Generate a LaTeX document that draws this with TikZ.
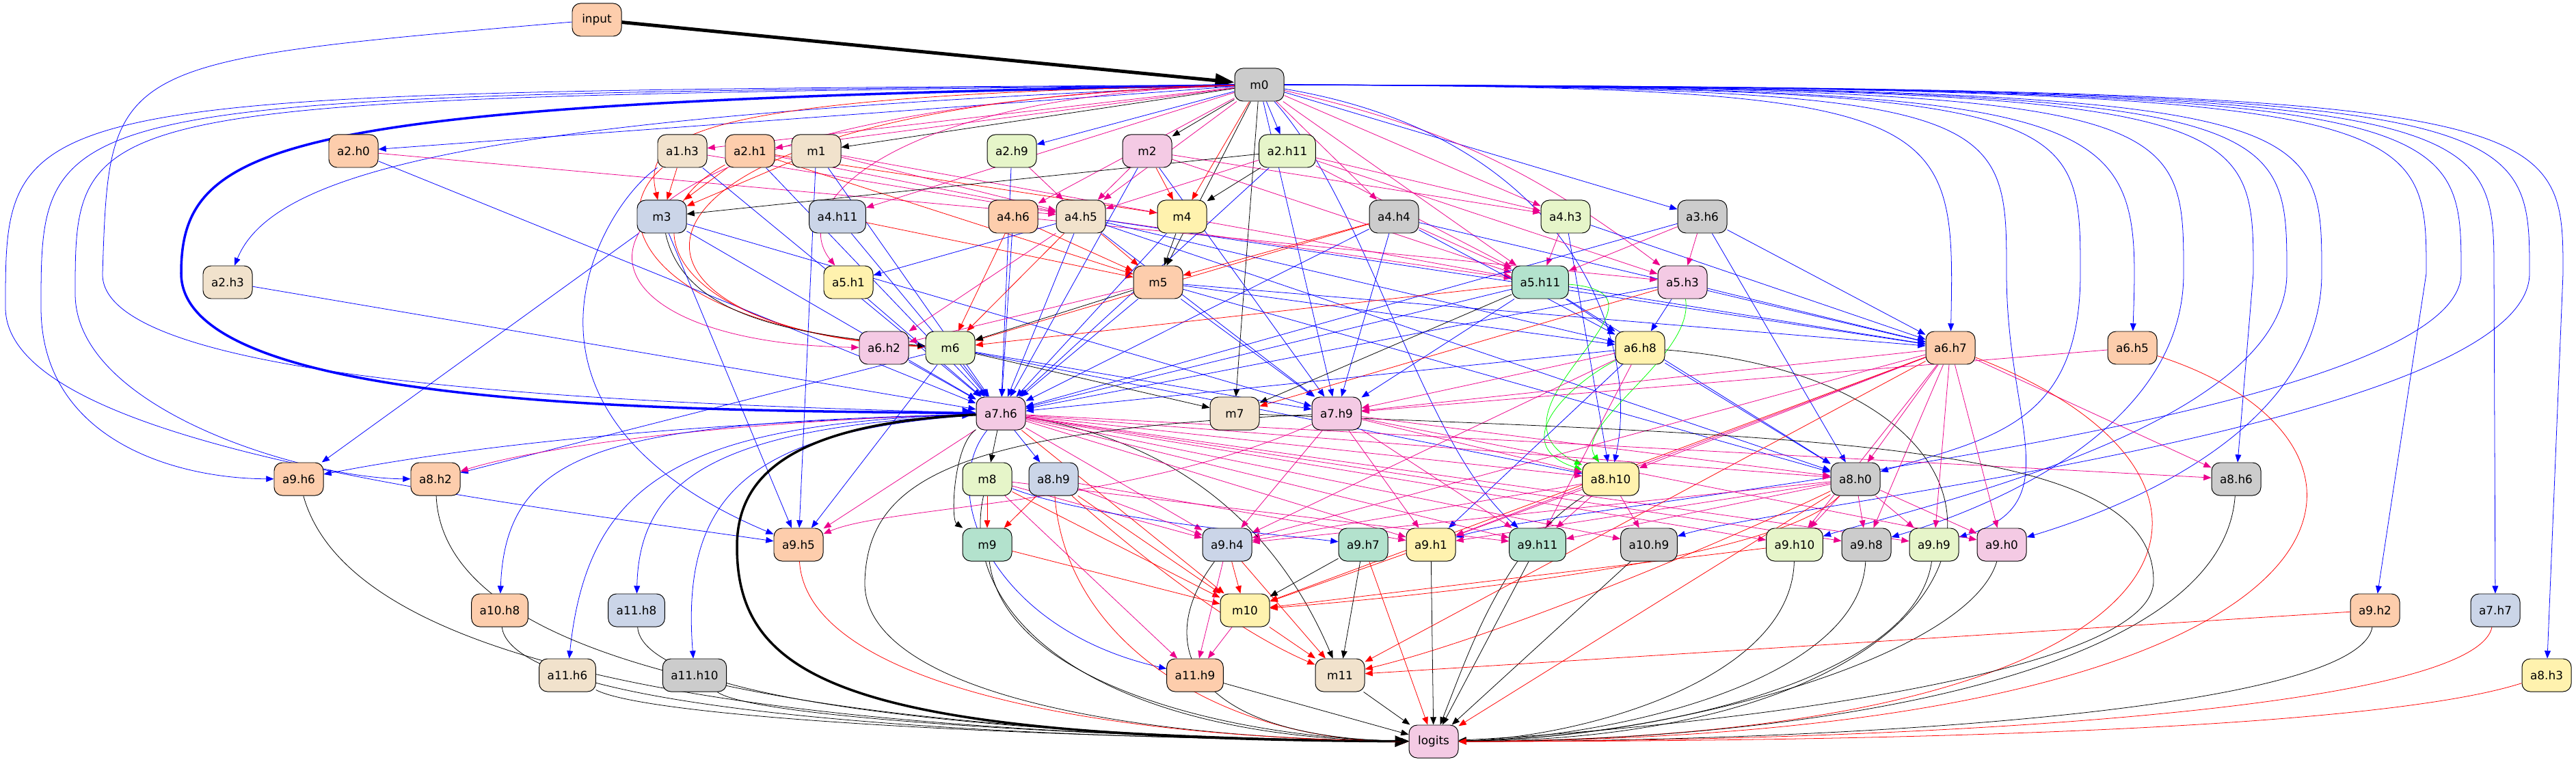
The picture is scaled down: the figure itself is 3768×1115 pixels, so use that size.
\documentclass[tikz,border=0pt]{standalone}
\usepackage{fontspec}
\setmainfont{DejaVu Sans}
\usepackage{tikz}
\usetikzlibrary{arrows.meta,backgrounds}

\definecolor{cteal}{HTML}{B3E2CD}
\definecolor{cpeach}{HTML}{FDCDAC}
\definecolor{cblue}{HTML}{CBD5E8}
\definecolor{cpink}{HTML}{F4CAE4}
\definecolor{cgreen}{HTML}{E6F5C9}
\definecolor{cyell}{HTML}{FFF2AE}
\definecolor{cbeige}{HTML}{F1E2CC}
\definecolor{cgrey}{HTML}{CCCCCC}

\tikzset{
	box/.style={draw,line width=0.7pt,rounded corners=0.3cm,minimum width=1.8cm,minimum height=1.2cm,inner xsep=0.3cm,font=\fontsize{12}{14}\selectfont},
	tl/.style={box,fill=cteal},
	pc/.style={box,fill=cpeach},
	bg/.style={box,fill=cblue},
	pk/.style={box,fill=cpink},
	gn/.style={box,fill=cgreen},
	yl/.style={box,fill=cyell},
	bz/.style={box,fill=cbeige},
	gy/.style={box,fill=cgrey},
	e/.style={->,line width=0.55pt},
	eb/.style={e,blue},
	em/.style={e,magenta},
	er/.style={e,red},
	ek/.style={e,black},
	eg/.style={e,green},
	thick edge/.style={line width=2.5pt,>={Triangle[length=5mm,width=4mm]}}
}

\begin{document}
\begin{tikzpicture}[x=0.025cm,y=-0.025cm,>={Triangle[length=2.8mm,width=2.2mm]}]
	\useasboundingbox (0,0) rectangle (3768,1115);

%nodes, rank by rank
	\node[pc] (input) at (873,29) {input};
	\node[gy] (m0) at (1842,124) {m0};
	%rank 1
	\node[pc] (a2h0) at (517,221) {a2.h0};
	\node[bz] (a1h3) at (998,221) {a1.h3};
	\node[pc] (a2h1) at (1097,221) {a2.h1};
	\node[bz] (m1) at (1194,221) {m1};
	\node[gn] (a2h9) at (1480,221) {a2.h9};
	\node[pk] (m2) at (1678,221) {m2};
	\node[gn] (a2h11) at (1883,221) {a2.h11};
	%rank 2
	\node[bg] (m3) at (968,317) {m3};
	\node[bg] (a4h11) at (1225,317) {a4.h11};
	\node[pc] (a4h6) at (1482,317) {a4.h6};
	\node[bz] (a4h5) at (1581,317) {a4.h5};
	\node[yl] (m4) at (1729,317) {m4};
	\node[gy] (a4h4) at (2039,317) {a4.h4};
	\node[gn] (a4h3) at (2290,317) {a4.h3};
	\node[gy] (a3h6) at (2490,317) {a3.h6};
	%rank 3
	\node[bz] (a2h3) at (333,413) {a2.h3};
	\node[yl] (a5h1) at (1241,413) {a5.h1};
	\node[pc] (m5) at (1694,413) {m5};
	\node[tl] (a5h11) at (2253,413) {a5.h11};
	\node[pk] (a5h3) at (2461,413) {a5.h3};
	%rank 4
	\node[pk] (a6h2) at (1293,509) {a6.h2};
	\node[gn] (m6) at (1390,509) {m6};
	\node[yl] (a6h8) at (2399,509) {a6.h8};
	\node[pc] (a6h7) at (2853,509) {a6.h7};
	\node[pc] (a6h5) at (3119,509) {a6.h5};
	%rank 5
	\node[pk] (a7h6) at (1464,605) {a7.h6};
	\node[bz] (m7) at (1806,605) {m7};
	\node[pk] (a7h9) at (1955,605) {a7.h9};
	%rank 6
	\node[pc] (a9h6) at (437,701) {a9.h6};
	\node[pc] (a8h2) at (637,701) {a8.h2};
	\node[gn] (m8) at (1444,701) {m8};
	\node[bg] (a8h9) at (1541,701) {a8.h9};
	\node[yl] (a8h10) at (2356,701) {a8.h10};
	\node[gy] (a8h0) at (2714,701) {a8.h0};
	\node[gy] (a8h6) at (3271,701) {a8.h6};
	%rank 7
	\node[pc] (a9h5) at (1168,797) {a9.h5};
	\node[tl] (m9) at (1444,797) {m9};
	\node[bg] (a9h4) at (1795,797) {a9.h4};
	\node[tl] (a9h7) at (1994,797) {a9.h7};
	\node[yl] (a9h1) at (2093,797) {a9.h1};
	\node[tl] (a9h11) at (2249,797) {a9.h11};
	\node[gy] (a10h9) at (2412,797) {a10.h9};
	\node[gn] (a9h10) at (2625,797) {a9.h10};
	\node[gy] (a9h8) at (2730,797) {a9.h8};
	\node[gn] (a9h9) at (2829,797) {a9.h9};
	\node[pk] (a9h0) at (2928,797) {a9.h0};
	%rank 8
	\node[pc] (a10h8) at (731,893) {a10.h8};
	\node[bg] (a11h8) at (931,893) {a11.h8};
	\node[yl] (m10) at (1821,893) {m10};
	\node[pc] (a9h2) at (3474,893) {a9.h2};
	\node[bg] (a7h7) at (3650,893) {a7.h7};
	%rank 9
	\node[bz] (a11h6) at (830,988) {a11.h6};
	\node[gy] (a11h10) at (1016,988) {a11.h10};
	\node[pc] (a11h9) at (1748,988) {a11.h9};
	\node[bz] (m11) at (1960,988) {m11};
	\node[yl] (a8h3) at (3725,988) {a8.h3};
	\node[pk] (logits) at (2097,1085) {logits};

\begin{scope}[on background layer]
	\fill[white] (0,0) rectangle (3768,1115);

%input and m0
	\draw[ek,line width=3.5pt,>={Triangle[length=7mm,width=5mm]}] (input) -- (m0);
	\draw[eb] (input) .. controls (160,90) .. (150,400) .. controls (145,560) and (900,590) .. (a7h6);
	\draw[eb,thick edge] (m0) .. controls (420,150) and (265,200) .. (265,400) .. controls (265,600) and (1000,600) .. (a7h6);
	\draw[eb] (m0) .. controls (8,135) .. (8,450) .. controls (8,650) and (700,730) .. (a9h5);
	\draw[eb] (m0) .. controls (60,140) .. (60,450) .. controls (60,640) and (250,700) .. (a9h6);
	\draw[eb] (m0) .. controls (110,145) .. (110,430) .. controls (110,600) and (450,700) .. (a8h2);
	\draw[eb] (m0) -- (a2h0);
	\draw[eb] (m0) .. controls (700,170) and (400,250) .. (a2h3);
	\foreach \t in {a1h3,a2h1} \draw[em] (m0) -- (\t);
	\foreach \t in {m1,m2,m5,m7} \draw[ek] (m0) -- (\t);
	\foreach \t in {a2h9,a2h11,a3h6,a7h9} \draw[eb] (m0) -- (\t);
	\foreach \t in {a4h11,a4h6,a4h5,a4h4,a4h3,a5h11} \draw[em] (m0) -- (\t);
	\draw[em] (m0) to[bend left=12] (a5h3);
	\draw[em] (m0) .. controls (1300,140) and (1150,300) .. (a5h1);
	\draw[em] (m0) .. controls (750,160) and (750,500) .. (a6h2);
	\draw[er] (m0) .. controls (1000,140) and (940,200) .. (m3);
	\draw[er] (m0) .. controls (850,150) and (830,480) .. (m6);
	\draw[er] (m0) -- (m4);
	\draw[eb] (m0) .. controls (2000,300) and (2080,650) .. (a9h11);
	\draw[eb] (m0) .. controls (2300,200) and (2400,500) .. (a8h10);
	%right side
	\foreach \t/\x in {a6h7/2860,a6h5/3131}
	{\draw[eb] (m0) .. controls (\x,128) and (\x,160) .. (\t);}
	\foreach \t/\x in {a8h6/3296,a9h2/3549,a7h7/3648,a8h3/3749}
	{\draw[eb] (m0) .. controls (\x,128) and (\x,160) .. (\x,400) -- (\t);}
	\foreach \t/\x in {a9h9/2935,a8h0/3043,a9h8/3194,a9h10/3345,a9h0/3396,a9h1/3600,a10h9/3700}
	{\draw[eb] (m0) .. controls (\x,128) and (\x,160) .. (\x,400) .. controls (\x,620) and +(200,-60) .. (\t);}

%rank 1
	\draw[em] (a2h0) -- (a4h5);
	\draw[eb] (a2h0) -- (a7h6);
	\draw[er] (a1h3) -- (m3);
	\draw[em] (a1h3) -- (a4h5);
	\draw[er] (a1h3) .. controls (880,320) and (950,480) .. (m6);
	\draw[eb] (a1h3) .. controls (880,300) and (700,600) .. (a9h5);
	\draw[eb] (a1h3) -- (a7h6);
	\foreach \t in {m3,m4,m5} \draw[er] (a2h1) -- (\t);
	\draw[em] (a2h1) -- (a4h5);
	\draw[er] (a2h1) .. controls (900,330) and (1000,490) .. (m6);
	\draw[eb] (a2h1) -- (a7h6);
	\draw[er] (m1) -- (m3);
	\foreach \t in {a4h5,a5h11} \draw[em] (m1) -- (\t);
	\foreach \t in {a7h6,a9h5} \draw[eb] (m1) -- (\t);
	\draw[em] (a2h9) -- (a4h5);
	\draw[eb] (a2h9) -- (a7h6);
	\draw[er] (m2) -- (m4);
	\foreach \t in {a4h5,a4h3,a5h11} \draw[em] (m2) -- (\t);
	\foreach \t in {a7h6,a7h9} \draw[eb] (m2) -- (\t);
	\foreach \t in {m4,m3} \draw[ek] (a2h11) -- (\t);
	\foreach \t in {a4h5,a4h3,a5h11,a5h3} \draw[em] (a2h11) -- (\t);
	\draw[eb] (a2h11) -- (a7h6);

%rank 2
	\draw[ek] (m3) .. controls (1000,460) and (1150,490) .. (m6);
	\foreach \t in {a7h6,a9h6,a9h5,a7h9} \draw[eb] (m3) -- (\t);
	\draw[er] (a4h11) -- (m5);
	\draw[eb] (a4h11) -- (a7h6);
	\foreach \t in {m5,m6} \draw[er] (a4h6) -- (\t);
	\draw[em] (a4h6) -- (a5h3);
	\draw[eb] (a4h6) -- (a7h6);
	\foreach \t in {m5,m6} \draw[er] (a4h5) -- (\t);
	\foreach \t in {a6h2,a5h11} \draw[em] (a4h5) -- (\t);
	\foreach \t in {a5h1,a7h6,a7h9,a6h8,a6h7,a8h0} \draw[eb] (a4h5) -- (\t);
	\draw[ek] (m4) -- (m5);
	\draw[eb] (m4) -- (a7h6);
	\foreach \t in {m5,m6} \draw[er] (a4h4) -- (\t);
	\draw[em] (a4h4) -- (a5h11);
	\foreach \t in {a6h8,a6h7,a7h6,a7h9} \draw[eb] (a4h4) -- (\t);
	\draw[em] (a4h3) -- (a5h11);
	\foreach \t in {a6h7,a8h10} \draw[eb] (a4h3) -- (\t);
	\foreach \t in {a5h3,a5h11} \draw[em] (a3h6) -- (\t);
	\foreach \t in {a6h7,a7h6,a8h0} \draw[eb] (a3h6) -- (\t);

%rank 3
	\draw[eb] (a2h3) -- (a7h6);
	\draw[eb] (a5h1) -- (a7h6);
	\draw[ek] (m5) -- (m6);
	\draw[em] (m5) -- (a6h2);
	\foreach \t in {a7h6,a7h9,a6h7,a6h8,a8h0} \draw[eb] (m5) -- (\t);
	\draw[er] (a5h11) -- (m6);
	\draw[ek] (a5h11) -- (m7);
	\foreach \t in {a6h7,a6h8,a7h6,a7h9,a8h0} \draw[eb] (a5h11) -- (\t);
	\draw[eg] (a5h11) .. controls (2480,430) and (2150,600) .. (a8h10);
	\draw[er] (a5h3) -- (m7);
	\draw[eg] (a5h3) .. controls (2480,520) and (2300,620) .. (a8h10);
	\foreach \t in {a6h8,a6h7,a7h6} \draw[eb] (a5h3) -- (\t);

%rank 4
	\draw[eb] (a6h2) -- (a7h6);
	\draw[ek] (m6) -- (m7);
	\foreach \t in {a7h6,a7h9,a8h2,a9h5,a8h10} \draw[eb] (m6) -- (\t);
	\foreach \t in {a7h6,a8h0,a9h1} \draw[eb] (a6h8) -- (\t);
	\foreach \t in {a7h9,a9h4,a9h11} \draw[em] (a6h8) -- (\t);
	\draw[eg] (a6h8) .. controls (2300,560) and (2200,650) .. (a8h10);
	\draw[ek] (a6h8) .. controls (3050,560) and (3000,1080) .. (logits);
	\foreach \t in {a7h9,a8h10,a8h0,a8h6,a9h0,a9h9,a9h8,a9h1,a9h4,a9h10} \draw[em] (a6h7) -- (\t);
	\foreach \t in {m10,m11} \draw[er] (a6h7) -- (\t);
	\draw[er] (a6h7) .. controls (3350,700) and (3250,1080) .. (logits);
	\draw[em] (a6h5) -- (a7h9);
	\draw[er] (a6h5) .. controls (3560,650) and (3500,1080) .. (logits);

%rank 5
	\draw[eb] (a7h6) .. controls (1000,620) and (700,650) .. (a9h6);
	\draw[em] (a7h6) .. controls (1100,615) and (800,650) .. (a8h2);
	\draw[eb] (a7h6) .. controls (900,620) and (740,650) .. (a10h8);
	\draw[eb] (a7h6) .. controls (1000,620) and (860,700) .. (a11h6);
	\draw[eb] (a7h6) .. controls (1050,625) and (935,700) .. (a11h8);
	\draw[eb] (a7h6) .. controls (1100,630) and (995,720) .. (a11h10);
	\draw[eb] (a7h6) .. controls (1370,720) and (1450,920) .. (a11h9);
	\draw[eb] (a7h6) -- (a8h9);
	\draw[em] (a7h6) -- (a9h5);
	\draw[ek] (a7h6) -- (m8);
	\draw[ek] (a7h6) .. controls (1395,650) and (1390,760) .. (m9);
	\draw[ek] (a7h6) .. controls (1750,650) and (1880,800) .. (m11);
	\draw[er] (a7h6) -- (m10);
	\draw[ek,thick edge] (a7h6) .. controls (1150,620) and (1078,700) .. (1078,800) .. controls (1078,1000) and (1250,1080) .. (logits);
	\foreach \t in {a9h4,a8h10,a8h0,a9h1,a9h11,a10h9,a9h10,a9h8,a9h9,a8h6} \draw[em] (a7h6) -- (\t);
	\draw[ek] (m7) .. controls (2700,640) and (3150,650) .. (3150,850) .. controls (3150,1000) and (2400,1070) .. (logits);
	\foreach \t in {a9h4,a9h1,a9h11,a8h10,a8h0,a9h0} \draw[em] (a7h9) -- (\t);
	\draw[em] (a7h9) .. controls (1650,740) and (1300,740) .. (a9h5);
	\draw[ek] (a7h9) .. controls (1400,630) and (1270,700) .. (1265,850) .. controls (1260,1000) and (1600,1080) .. (logits);

%rank 6
	\foreach \t in {m9,m10} \draw[er] (m8) -- (\t);
	\foreach \t in {a11h9,a9h4,a9h11} \draw[em] (m8) -- (\t);
	\draw[eb] (m8) .. controls (1600,760) and (1850,780) .. (a9h7);
	\draw[ek] (m8) .. controls (1400,900) and (1600,1080) .. (logits);
	\foreach \t in {m9,m10} \draw[er] (a8h9) -- (\t);
	\draw[er] (a8h9) .. controls (1650,800) and (1800,920) .. (m11);
	\foreach \t in {a9h4,a9h1} \draw[em] (a8h9) -- (\t);
	\draw[er] (a8h9) .. controls (1560,950) and (1800,1085) .. (logits);
	\foreach \t in {a9h4,a9h11,a9h1,a10h9} \draw[em] (a8h10) -- (\t);
	\draw[ek] (a8h10) .. controls (2200,800) and (2150,950) .. (logits);
	\foreach \t in {a9h10,a9h8,a9h9,a9h0,a9h1,a9h11,a9h4} \draw[em] (a8h0) -- (\t);
	\draw[er] (a8h0) .. controls (2600,820) and (2100,870) .. (m10);
	\draw[er] (a8h0) .. controls (2550,780) and (2200,930) .. (m11);
	\draw[er] (a8h0) -- (logits);
	\draw[ek] (a8h6) .. controls (3250,1000) and (2600,1085) .. (logits);
	\draw[ek] (a9h6) .. controls (520,1000) and (1200,1075) .. (logits);
	\draw[ek] (a8h2) .. controls (650,1000) and (1300,1075) .. (logits);

%rank 7
	\draw[er] (a9h5) .. controls (1180,1000) and (1600,1080) .. (logits);
	\draw[er] (m9) -- (m10);
	\draw[ek] (m9) .. controls (1470,1000) and (1800,1080) .. (logits);
	\foreach \t in {m10,m11} \draw[er] (a9h4) -- (\t);
	\draw[em] (a9h4) -- (a11h9);
	\draw[ek] (a9h4) .. controls (1680,950) and (1750,1080) .. (logits);
	\foreach \t in {m10,m11} \draw[ek] (a9h7) -- (\t);
	\draw[er] (a9h7) -- (logits);
	\draw[er] (a9h1) -- (m10);
	\foreach \t in {a9h1,a9h11,a10h9} \draw[ek] (\t) -- (logits);
	\draw[er] (a9h10) -- (m10);
	\draw[ek] (a9h10) .. controls (2620,1000) and (2300,1080) .. (logits);
	\draw[ek] (a9h8) .. controls (2720,1000) and (2350,1080) .. (logits);
	\draw[ek] (a9h9) .. controls (2800,1000) and (2400,1080) .. (logits);
	\draw[ek] (a9h0) .. controls (2880,960) and (2450,1080) .. (logits);

%rank 8 and 9
	\draw[em] (m10) -- (a11h9);
	\draw[er] (m10) -- (m11);
	\draw[ek] (a10h8) .. controls (750,1040) and (1400,1080) .. (logits);
	\draw[ek] (a11h8) .. controls (940,1030) and (1500,1080) .. (logits);
	\draw[er] (a9h2) -- (m11);
	\draw[ek] (a9h2) .. controls (3450,1040) and (2700,1085) .. (logits);
	\draw[er] (a7h7) .. controls (3620,1040) and (2800,1085) .. (logits);
	\draw[ek] (a11h6) .. controls (950,1050) and (1500,1080) .. (logits);
	\draw[ek] (a11h10) .. controls (1100,1050) and (1600,1080) .. (logits);
	\foreach \t in {a11h9,m11} \draw[ek] (\t) -- (logits);
	\draw[er] (a8h3) .. controls (3500,1060) and (2900,1085) .. (logits);
\end{scope}
\end{tikzpicture}
\end{document}
